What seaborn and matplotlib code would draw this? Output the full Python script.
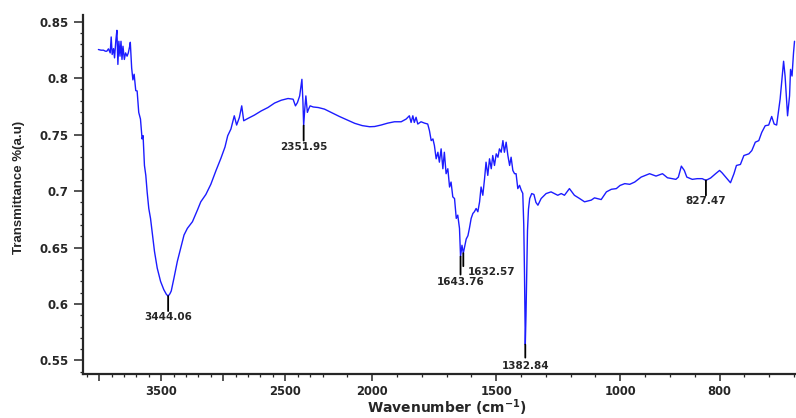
import matplotlib

matplotlib.use("Agg")
import matplotlib.pyplot as plt
import matplotlib.ticker as mticker
import numpy as np
import pandas as pd
import seaborn as sns

# FTIR spectrum (wavenumber in cm-1, transmittance)
wavenumber = [
    4006, 3985, 3965, 3950, 3938, 3925, 3911, 3903, 3895, 3884, 3876, 3865,
    3857, 3849, 3841, 3832, 3824, 3816, 3808, 3797, 3787, 3775, 3765, 3754,
    3749, 3738, 3728, 3718, 3705, 3694, 3689, 3681, 3667, 3654, 3646, 3635,
    3624, 3613, 3600, 3586, 3573, 3554, 3532, 3505, 3479, 3458, 3444.06, 3430,
    3419, 3397, 3370, 3343, 3316, 3289, 3248, 3208, 3181, 3140, 3100, 3059,
    3019, 2986, 2964, 2938, 2911, 2892, 2870, 2851, 2835, 2802, 2749, 2694,
    2640, 2586, 2532, 2478, 2437, 2418, 2402, 2384, 2366, 2358, 2351.95, 2343,
    2334, 2322, 2312, 2300, 2275, 2234, 2192, 2165, 2132, 2100, 2070, 2040,
    2010, 1990, 1964, 1937, 1910, 1883, 1863, 1850, 1843, 1836, 1830, 1823,
    1816, 1803, 1789, 1776, 1769, 1762, 1755, 1749, 1742, 1735, 1729, 1722,
    1715, 1709, 1702, 1695, 1688, 1682, 1675, 1668, 1661, 1655, 1648, 1643.76,
    1638, 1635, 1632.57, 1621, 1614, 1608, 1601, 1594, 1588, 1581, 1574, 1567,
    1561, 1554, 1547, 1541, 1534, 1527, 1520, 1514, 1507, 1500, 1493, 1487,
    1480, 1473, 1467, 1460, 1453, 1446, 1440, 1433, 1426, 1420, 1413, 1406,
    1399, 1393, 1389, 1386, 1384, 1382.84, 1380, 1377, 1374, 1370, 1365, 1357,
    1348, 1340, 1332, 1319, 1299, 1279, 1265, 1252, 1238, 1225, 1205, 1185,
    1164, 1144, 1117, 1104, 1077, 1056, 1036, 1016, 1001, 991, 981, 971,
    958, 941, 928, 915, 905, 888, 883, 877, 871, 866, 855, 845,
    835, 827.47, 818, 808, 800, 795, 786, 778, 771, 766, 758, 751,
    741, 735, 728, 721, 715, 708, 701, 695, 690, 685, 678, 671,
    668, 663, 659, 657, 654, 651, 649,
]
transmittance = [
    0.8254, 0.8248, 0.8248, 0.8239, 0.8239, 0.8260, 0.8224, 0.8365, 0.8210, 0.8262, 0.8180, 0.8341,
    0.8424, 0.8122, 0.8327, 0.8195, 0.8327, 0.8166, 0.8283, 0.8166, 0.8224, 0.8195, 0.8224, 0.8283,
    0.8318, 0.8090, 0.7985, 0.8035, 0.7890, 0.7887, 0.7814, 0.7697, 0.7638, 0.7462, 0.7491, 0.7227,
    0.7139, 0.6990, 0.6846, 0.6758, 0.6641, 0.6465, 0.6318, 0.6200, 0.6127, 0.6085, 0.6070, 0.6090,
    0.6115, 0.6230, 0.6377, 0.6494, 0.6611, 0.6670, 0.6729, 0.6832, 0.6905, 0.6970, 0.7060, 0.7180,
    0.7290, 0.7390, 0.7490, 0.7550, 0.7667, 0.7585, 0.7652, 0.7755, 0.7623, 0.7643, 0.7673, 0.7710,
    0.7740, 0.7780, 0.7805, 0.7820, 0.7814, 0.7755, 0.7784, 0.7843, 0.7990, 0.7800, 0.7580, 0.7726,
    0.7843, 0.7697, 0.7726, 0.7755, 0.7745, 0.7740, 0.7726, 0.7697, 0.7661, 0.7630, 0.7600, 0.7580,
    0.7570, 0.7572, 0.7585, 0.7602, 0.7614, 0.7614, 0.7638, 0.7667, 0.7608, 0.7667, 0.7608, 0.7654,
    0.7594, 0.7614, 0.7602, 0.7594, 0.7535, 0.7447, 0.7462, 0.7403, 0.7286, 0.7344, 0.7256, 0.7374,
    0.7198, 0.7344, 0.7154, 0.7198, 0.7036, 0.7080, 0.6949, 0.6934, 0.6758, 0.6787, 0.6670, 0.6420,
    0.6520, 0.6480, 0.6450, 0.6575, 0.6605, 0.6670, 0.6758, 0.6802, 0.6817, 0.6846, 0.6817, 0.6905,
    0.7036, 0.6963, 0.7110, 0.7256, 0.7139, 0.7286, 0.7198, 0.7315, 0.7227, 0.7330, 0.7300, 0.7374,
    0.7344, 0.7447, 0.7344, 0.7433, 0.7315, 0.7227, 0.7300, 0.7183, 0.7154, 0.7154, 0.7022, 0.7051,
    0.7007, 0.6980, 0.6700, 0.6260, 0.5850, 0.5640, 0.5900, 0.6300, 0.6650, 0.6840, 0.6934, 0.6978,
    0.6970, 0.6900, 0.6875, 0.6934, 0.6978, 0.6993, 0.6978, 0.6963, 0.6978, 0.6963, 0.7022, 0.6963,
    0.6934, 0.6905, 0.6920, 0.6940, 0.6925, 0.6993, 0.7016, 0.7022, 0.7050, 0.7066, 0.7060, 0.7080,
    0.7124, 0.7154, 0.7133, 0.7154, 0.7118, 0.7104, 0.7124, 0.7221, 0.7183, 0.7124, 0.7104, 0.7110,
    0.7110, 0.7095, 0.7116, 0.7154, 0.7183, 0.7162, 0.7116, 0.7074, 0.7154, 0.7227, 0.7236, 0.7315,
    0.7330, 0.7359, 0.7433, 0.7447, 0.7520, 0.7579, 0.7585, 0.7661, 0.7594, 0.7585, 0.7814, 0.8150,
    0.8019, 0.7667, 0.7843, 0.8078, 0.8019, 0.8224, 0.8327,
]

# labelled peaks and where their labels sit (pixel offsets from the peak)
peak_labels = ["3444.06", "2351.95", "1643.76", "1632.57", "1382.84", "827.47"]
peak_positions = [3444.06, 2351.95, 1643.76, 1632.57, 1382.84, 827.47]
tick_lengths = [15, 15, 18, 13, 13, 15]
label_offsets = [(0, -21), (0, -21), (0, -25), (4, -19), (0, -21), (0, -21)]
label_align = ["center", "center", "center", "left", "center", "center"]

x_major = [4000, 3500, 3000, 2500, 2000, 1500, 1000, 800]
x_major_labels = ["", "3500", "", "2500", "2000", "1500", "1000", "800"]
x_minor = [w for w in range(4100, 1000, -100)] + [950, 900, 850, 750, 700, 650]
y_major = [0.55, 0.6, 0.65, 0.7, 0.75, 0.8, 0.85]

# Piecewise axis: the scale doubles below 2200 cm-1 and again below 1000 cm-1
knots_w = [0, 1000, 2200, 5000]
knots_q = [-6400, -2400, 0, 2800]


def forward(w):
    return np.interp(w, knots_w, knots_q)


def inverse(q):
    return np.interp(q, knots_q, knots_w)


sns.set_style("ticks")
plt.rcParams["font.family"] = ["DejaVu Sans"]

df = pd.DataFrame({"wavenumber": wavenumber, "transmittance": transmittance})

fig = plt.figure(figsize=(7.96, 4.18), dpi=100)
ax = fig.add_axes([0.1043, 0.1053, 0.8957, 0.8589])
ax.set_xscale("function", functions=(forward, inverse))

sns.lineplot(
    data=df,
    x="wavenumber",
    y="transmittance",
    ax=ax,
    color="#1c1cff",
    linewidth=1.0,
    estimator=None,
    sort=False,
)

ax.set_xlim(4130, 646)
ax.set_ylim(0.538, 0.856)

ax.xaxis.set_major_locator(mticker.FixedLocator(x_major))
ax.xaxis.set_major_formatter(mticker.FixedFormatter(x_major_labels))
ax.xaxis.set_minor_locator(mticker.FixedLocator(x_minor))
ax.yaxis.set_major_locator(mticker.FixedLocator(y_major))
ax.yaxis.set_major_formatter(mticker.FormatStrFormatter("%g"))
ax.yaxis.set_minor_locator(mticker.MultipleLocator(0.01))

ax.tick_params(axis="x", which="major", length=5, width=1.1, pad=3, labelsize=8.3)
ax.tick_params(axis="y", which="major", length=6.5, width=1.1, pad=4, labelsize=8.5)
ax.tick_params(which="minor", length=2.2, width=0.9)
for lbl in ax.get_xticklabels() + ax.get_yticklabels():
    lbl.set_fontweight("bold")

sns.despine(ax=ax)
for side in ["left", "bottom"]:
    ax.spines[side].set_linewidth(1.6)

ax.set_xlabel("Wavenumber (cm$^{\\mathbf{-1}}$)", fontsize=10, fontweight="bold")
ax.set_ylabel("Transmittance %(a.u)", fontsize=9.5, fontweight="bold",
              family=["Liberation Sans"])
ax.xaxis.set_label_coords(0.51, -0.064)
ax.yaxis.set_label_coords(-0.082, 0.52)

# peak markers
for name, w, tl, off, ha in zip(peak_labels, peak_positions, tick_lengths,
                                label_offsets, label_align):
    t = np.interp(w, wavenumber[::-1], transmittance[::-1])
    ax.annotate("", xy=(w, t), xytext=(0, -tl), textcoords="offset pixels",
                arrowprops=dict(arrowstyle="-", color="black", lw=1.3,
                                shrinkA=0, shrinkB=0))
    ax.annotate(name, xy=(w, t), xytext=off, textcoords="offset pixels",
                ha=ha, va="center", fontsize=7.5, fontweight="bold")

fig.savefig("out.png", dpi=100)
